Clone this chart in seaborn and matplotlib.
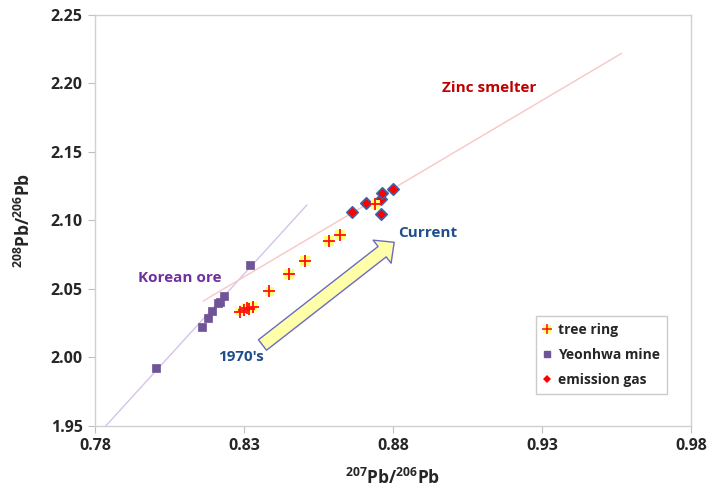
import numpy as np
import pandas as pd
import matplotlib
matplotlib.use("Agg")
import matplotlib.pyplot as plt
import seaborn as sns
from matplotlib.lines import Line2D
from matplotlib.legend_handler import HandlerTuple

# ---------------- data ----------------
tree_x = [0.8287, 0.8300, 0.8309, 0.8318, 0.8329, 0.8385, 0.8451, 0.8505, 0.8585, 0.8622, 0.8740]
tree_y = [2.0334, 2.0350, 2.0361, 2.0356, 2.0371, 2.0483, 2.0610, 2.0704, 2.0850, 2.0894, 2.1118]

mine_x = [0.8005, 0.8158, 0.8178, 0.8192, 0.8214, 0.8219, 0.8233, 0.8320]
mine_y = [1.9921, 2.0220, 2.0290, 2.0342, 2.0396, 2.0407, 2.0449, 2.0675]

gas_x = [0.8661, 0.8709, 0.8759, 0.8760, 0.8764, 0.8801]
gas_y = [2.1060, 2.1126, 2.1045, 2.1157, 2.1203, 2.1228]

ore_line_x = [0.7836, 0.8511]
ore_line_y = [1.9500, 2.1113]
zinc_line_x = [0.8163, 0.9567]
zinc_line_y = [2.0412, 2.2220]

arrow_tail = (0.8362, 2.0091)
arrow_tip = (0.8804, 2.0841)

x_ticks = [0.78, 0.83, 0.88, 0.93, 0.98]
y_ticks = [1.95, 2.00, 2.05, 2.10, 2.15, 2.20, 2.25]

# ---------------- style ----------------
sns.set_style("white")
plt.rcParams["font.family"] = ["Open Sans", "DejaVu Sans"]
plt.rcParams["mathtext.fontset"] = "custom"
plt.rcParams["mathtext.rm"] = "Open Sans"
plt.rcParams["mathtext.bf"] = "Open Sans:bold"

fig = plt.figure(figsize=(7.09, 4.87), dpi=100)
ax = fig.add_axes([0.134, 0.1253, 0.8406, 0.8439])

# trend lines
ax.plot(ore_line_x, ore_line_y, color="#D2C4EA", lw=1.0, zorder=1)
ax.plot(zinc_line_x, zinc_line_y, color="#F9C6C6", lw=1.0, zorder=1)

df_mine = pd.DataFrame({"x": mine_x, "y": mine_y})
df_gas = pd.DataFrame({"x": gas_x, "y": gas_y})
df_tree = pd.DataFrame({"x": tree_x, "y": tree_y})

sns.scatterplot(data=df_mine, x="x", y="y", marker="s", s=38, color="#6F5497",
                edgecolor="#6F5497", linewidth=0.5, ax=ax, zorder=3)
sns.scatterplot(data=df_gas, x="x", y="y", marker="D", s=34, color="#FF0000",
                edgecolor="#3B64A8", linewidth=1.2, ax=ax, zorder=4)
sns.scatterplot(data=df_tree, x="x", y="y", marker="s", s=44, color="#FFFF70",
                edgecolor="none", linewidth=0, ax=ax, zorder=5)
ax.scatter(df_tree["x"], df_tree["y"], marker="+", s=64, color="#FF1010",
           linewidths=1.3, zorder=6)

# block arrow
ax.annotate("", xy=arrow_tip, xytext=arrow_tail,
            arrowprops=dict(arrowstyle="simple,head_length=11,head_width=21,tail_width=9.5",
                            mutation_scale=1, fc="#FFFFAA", ec="#6B6BC0", lw=1.0,
                            shrinkA=0, shrinkB=0),
            zorder=2)

# annotations
ax.text(0.9122, 2.1967, "Zinc smelter", color="#C00000", fontsize=11,
        fontweight="bold", ha="center", va="center")
ax.text(0.8817, 2.0909, "Current", color="#1F4E8C", fontsize=11,
        fontweight="bold", ha="left", va="center")
ax.text(0.7944, 2.0580, "Korean ore", color="#7030A0", fontsize=11,
        fontweight="bold", ha="left", va="center")
ax.text(0.8213, 2.0004, "1970's", color="#1F4E8C", fontsize=11,
        fontweight="bold", ha="left", va="center")

# axes
ax.set_xlim(0.78, 0.98)
ax.set_ylim(1.95, 2.25)
ax.set_xticks(x_ticks)
ax.set_xticklabels([f"{v:.2f}" for v in x_ticks])
ax.set_yticks(y_ticks)
ax.set_yticklabels([f"{v:.2f}" for v in y_ticks])
for lab in ax.get_xticklabels() + ax.get_yticklabels():
    lab.set_fontweight("bold")
    lab.set_fontsize(11.5)
ax.tick_params(axis="both", which="major", direction="out", length=5, width=0.8,
               color="#BFBFBF", pad=4, bottom=True, left=True)
for sp in ax.spines.values():
    sp.set_color("#D0D0D0")
    sp.set_linewidth(1.0)

ax.set_xlabel(r"$^{\mathbf{207}}\mathbf{Pb/}^{\mathbf{206}}\mathbf{Pb}$", fontsize=12.5, labelpad=10)
ax.set_ylabel(r"$^{\mathbf{208}}\mathbf{Pb/}^{\mathbf{206}}\mathbf{Pb}$", fontsize=12.5, labelpad=12)

# legend
h_tree = (Line2D([], [], marker="s", ls="none", color="#FFFF70", markersize=6, markeredgewidth=0),
          Line2D([], [], marker="+", ls="none", color="#FF1010", markersize=6.5, markeredgewidth=1.1))
h_mine = Line2D([], [], marker="s", ls="none", color="#6F5497", markersize=5)
h_gas = Line2D([], [], marker="D", ls="none", color="#FF0000", markersize=4.5, markeredgewidth=0)
leg = ax.legend([h_tree, h_mine, h_gas], ["tree ring", "Yeonhwa mine", "emission gas"],
                handler_map={tuple: HandlerTuple(ndivide=1)},
                loc="lower left", bbox_to_anchor=(0.74, 0.078), frameon=True,
                fancybox=False, edgecolor="#BFBFBF", handlelength=0.6, handletextpad=0.45,
                labelspacing=0.8, borderpad=0.5, borderaxespad=0,
                prop={"weight": "bold", "size": 10})
leg.get_frame().set_linewidth(1.0)

fig.savefig("out.png", dpi=100)
